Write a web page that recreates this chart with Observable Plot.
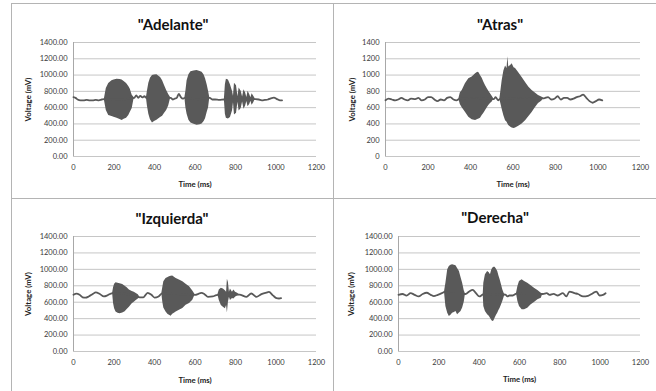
<!DOCTYPE html>
<html>
<head>
<meta charset="utf-8">
<script src="https://cdn.jsdelivr.net/npm/d3@7"></script>
<script src="https://cdn.jsdelivr.net/npm/@observablehq/plot@0.6"></script>
<style>
html,body{margin:0;padding:0;background:#fff;}
#wrap{position:relative;width:656px;height:391px;overflow:hidden;background:#fff;font-family:Lato,"Open Sans",sans-serif;}
.hl{position:absolute;height:0;border-top:1.5px solid #b4b4b4;}
.vl{position:absolute;width:0;border-left:1.5px solid #b4b4b4;}
.title{position:absolute;font-family:Lato,"Open Sans",sans-serif;font-weight:bold;font-size:15px;color:#111;transform:translate(-50%,-50%);white-space:nowrap;line-height:1;}
.plot{position:absolute;}
.plot g[aria-label="x-axis label"], .plot g[aria-label="y-axis label"],
.plot g[aria-label="x-axis label"] text, .plot g[aria-label="y-axis label"] text{font-weight:bold;font-size:7.8px;fill:#222;}
</style>
</head>
<body>
<div id="wrap"></div>
<script>
// ---- ticks & titles ----
const xTicks = [0, 200, 400, 600, 800, 1000, 1200];
const yTicks = [0, 200, 400, 600, 800, 1000, 1200, 1400];
const titles = ['"Adelante"', '"Atras"', '"Izquierda"', '"Derecha"'];
const xLabel = "Time (ms)";
const yLabel = "Voltage (mV)";

// ---- "Adelante": quiet trace and burst envelopes (ms, mV) ----
const adelanteT = [0,10,20,35,50,65,80,95,110,125,140,152,230,300,310,320,330,340,350,360,420,480,490,500,510,520,530,540,550,610,673,685,700,720,745,820,898,915,930,945,960,975,990,1005,1020,1030];
const adelanteV = [730,720,700,690,690,695,690,690,695,690,700,705,700,720,750,720,745,725,740,720,720,720,700,710,720,770,730,710,720,700,720,700,700,695,700,700,705,700,690,695,700,715,722,705,690,690];
const adelanteBurstT  = [152,162,174,190,200,215,230,240,250,262,273,280,290,300, 360,365,372,380,390,400,412,420,430,440,450,460,470,480, 550,555,561,570,580,595,610,625,635,645,652,660,667,673, 745,750,755,765,775,785,790,795,805,812,818,828,835,842,850,856,862,870,876,882,890,898];
const adelanteBurstHi = [700,834,896,929,940,950,945,938,920,896,860,830,752,720, 720,800,900,960,995,1000,1005,990,970,930,870,810,760,720, 720,800,930,1005,1040,1050,1055,1045,1035,1000,955,880,800,720, 700,880,950,940,880,800,740,900,870,735,840,800,730,820,780,725,800,760,720,770,740,705];
const adelanteBurstLo = [700,566,504,490,483,470,455,442,458,470,504,540,590,720, 720,620,520,450,412,430,445,460,480,495,530,565,620,720, 720,600,520,445,410,395,385,390,400,430,465,540,600,720, 700,520,470,460,480,560,660,510,530,665,560,590,670,580,620,675,610,640,680,630,660,705];

// ---- "Atras" ----
const atrasT = [0,15,30,45,60,75,90,105,120,140,155,170,185,200,215,230,245,260,275,290,305,320,335,345,420,510,518,530,538,650,745,765,780,795,810,825,840,855,870,885,900,915,930,945,960,975,990,1005,1020];
const atrasV = [690,710,700,690,700,720,700,690,710,705,720,690,700,730,730,700,680,700,690,720,730,700,690,705,720,705,730,690,705,720,715,730,700,710,740,700,720,720,700,710,730,740,760,720,680,660,680,700,690];
const atrasBurstT  = [345,352,361,376,392,408,424,434,440,447,455,463,471,479,486,494,502,510, 538,541,549,557,565,572,576,580,590,596,605,612,627,643,659,675,690,705,720,735,745];
const atrasBurstHi = [705,780,811,893,955,975,1016,1036,1030,995,960,913,870,832,800,770,740,705, 705,760,930,1050,1110,1080,1225,1100,1120,1140,1090,1080,1030,970,910,850,810,780,750,730,715];
const atrasBurstLo = [705,640,600,544,483,451,442,455,460,470,503,530,565,600,627,650,668,705, 705,670,580,500,440,420,400,380,360,350,345,350,370,400,440,490,540,600,650,680,715];

// ---- "Izquierda" ----
const izquierdaT = [0,15,30,45,60,75,95,110,130,150,165,180,193,260,328,345,366,385,400,420,436,520,601,614,631,647,664,688,705,713,760,820,829,854,878,903,928,953,965,986,1002,1015,1025];
const izquierdaV = [690,705,690,660,655,670,700,720,700,670,680,700,710,700,660,660,714,690,657,670,705,700,690,698,714,698,665,670,686,690,690,692,686,665,706,665,698,718,725,680,650,645,650];
const izquierdaBurstT  = [193,198,203,210,220,230,243,255,265,276,290,300,310,320,328, 436,441,446,457,467,474,482,490,500,507,523,540,556,573,589,601, 713,720,730,740,750,756,760,765,770,775,785,792,800,810,820];
const izquierdaBurstHi = [710,780,820,836,830,826,815,795,775,750,730,720,706,690,660, 705,780,850,889,900,910,915,918,900,889,869,849,820,787,738,690, 690,750,770,760,740,720,880,840,720,760,720,750,720,710,692];
const izquierdaBurstLo = [710,580,520,481,465,460,470,485,510,540,580,600,620,640,660, 705,600,530,481,450,441,430,453,470,481,502,522,563,583,624,690, 690,620,560,540,520,560,470,600,660,620,645,640,660,680,692];

// ---- "Derecha" ----
const derechaT = [0,20,40,60,80,100,120,140,160,175,195,215,228,280,332,340,351,368,384,401,420,470,530,540,550,567,585,650,716,735,749,769,790,815,832,848,873,890,915,940,964,981,997,1014,1027];
const derechaV = [690,700,680,710,690,670,700,715,690,675,690,710,725,700,700,710,730,751,710,670,695,700,692,670,682,682,705,700,700,710,690,702,682,710,670,730,710,700,670,678,710,730,682,690,710];
const derechaBurstT  = [228,235,244,252,260,268,277,285,293,302,310,318,326,332, 420,423,431,442,450,456,462,467,473,479,486,492,498,504,511,517,525,530, 585,592,600,613,625,641,658,674,691,708,716];
const derechaBurstHi = [725,832,994,1035,1050,1055,1050,1043,1010,974,900,832,740,700, 695,832,933,974,960,933,990,1015,1025,1027,1000,974,920,872,810,751,700,692, 705,791,852,873,852,832,800,771,743,710,700];
const derechaBurstLo = [725,548,467,426,440,467,475,487,446,470,487,530,600,700, 695,548,487,446,430,406,380,365,370,406,440,467,500,528,570,609,670,692, 705,609,548,507,507,528,568,597,629,649,700];

// ---- layout ----
const fmt2 = d3.format(".2f");
const fmt0 = d3.format("d");
const panels = [
  {title: titles[0], t: adelanteT, v: adelanteV, bt: adelanteBurstT, hi: adelanteBurstHi, lo: adelanteBurstLo, fmt: fmt2,
   box: [12, 4, 333, 198], frame: [73, 316, 42, 156], tc: [173, 24], xOff: 30.5, yOff: 48.5},
  {title: titles[1], t: atrasT, v: atrasV, bt: atrasBurstT, hi: atrasBurstHi, lo: atrasBurstLo, fmt: fmt0,
   box: [333, 4, 656, 198], frame: [385, 640, 42, 156], tc: [500, 24], xOff: 30.5, yOff: 36.5},
  {title: titles[2], t: izquierdaT, v: izquierdaV, bt: izquierdaBurstT, hi: izquierdaBurstHi, lo: izquierdaBurstLo, fmt: fmt2,
   box: [12, 198, 333, 391], frame: [73, 316, 236, 351], tc: [172, 218], xOff: 31.5, yOff: 48.5},
  {title: titles[3], t: derechaT, v: derechaV, bt: derechaBurstT, hi: derechaBurstHi, lo: derechaBurstLo, fmt: fmt2,
   box: [333, 198, 656, 391], frame: [398, 640, 236, 351], tc: [495, 217], xOff: 30, yOff: 50.5}
];

const wrap = document.getElementById("wrap");
const ink = "#595959";

for (const p of panels) {
  if (p.t.length !== p.v.length || p.bt.length !== p.hi.length || p.bt.length !== p.lo.length) {
    throw new Error("length mismatch in " + p.title);
  }
  const line = p.t.map((t, i) => ({t, v: p.v[i]}));
  const burst = p.bt.map((t, i) => ({t, hi: p.hi[i], lo: p.lo[i]}));
  const [x0, y0, x1, y1] = p.box;
  const [fl, fr, ft, fb] = p.frame;
  const chart = Plot.plot({
    width: x1 - x0,
    height: y1 - y0,
    marginLeft: fl - x0,
    marginRight: x1 - fr,
    marginTop: ft - y0,
    marginBottom: y1 - fb,
    x: {domain: [0, 1200]},
    y: {domain: [0, 1400]},
    style: {fontFamily: "Lato, 'Open Sans', sans-serif", fontSize: "7.5px", color: "#3a3a3a", background: "transparent", overflow: "visible"},
    marks: [
      Plot.gridY(yTicks, {stroke: "#c6c6c6", strokeOpacity: 1, strokeWidth: 1}),
      Plot.ruleX([0], {stroke: "#a8a8a8", strokeWidth: 1}),
      Plot.areaY(burst, {x: "t", y1: "lo", y2: "hi", fill: ink, curve: "linear"}),
      Plot.lineY(line, {x: "t", y: "v", stroke: ink, strokeWidth: 1.8, curve: "monotone-x"}),
      Plot.axisX({ticks: xTicks, tickSize: 0, tickPadding: 8, tickFormat: fmt0,
                  label: xLabel, labelAnchor: "center", labelOffset: p.xOff, labelArrow: "none"}),
      Plot.axisY({ticks: yTicks, tickSize: 0, tickPadding: 6, tickFormat: p.fmt,
                  label: yLabel, labelAnchor: "center", labelOffset: p.yOff, labelArrow: "none"})
    ]
  });
  chart.classList.add("plot");
  chart.style.left = x0 + "px";
  chart.style.top = y0 + "px";
  wrap.appendChild(chart);

  const tt = document.createElement("div");
  tt.className = "title";
  tt.textContent = p.title;
  tt.style.left = p.tc[0] + "px";
  tt.style.top = p.tc[1] + "px";
  wrap.appendChild(tt);
}

// panel borders
function hline(x, y, w) { const d = document.createElement("div"); d.className = "hl"; d.style.left = x + "px"; d.style.top = y + "px"; d.style.width = w + "px"; wrap.appendChild(d); }
function vline(x, y, h) { const d = document.createElement("div"); d.className = "vl"; d.style.left = x + "px"; d.style.top = y + "px"; d.style.height = h + "px"; wrap.appendChild(d); }
hline(11, 3, 660);
hline(11, 197.5, 660);
vline(11, 3, 400);
vline(333, 3, 400);
</script>
</body>
</html>
